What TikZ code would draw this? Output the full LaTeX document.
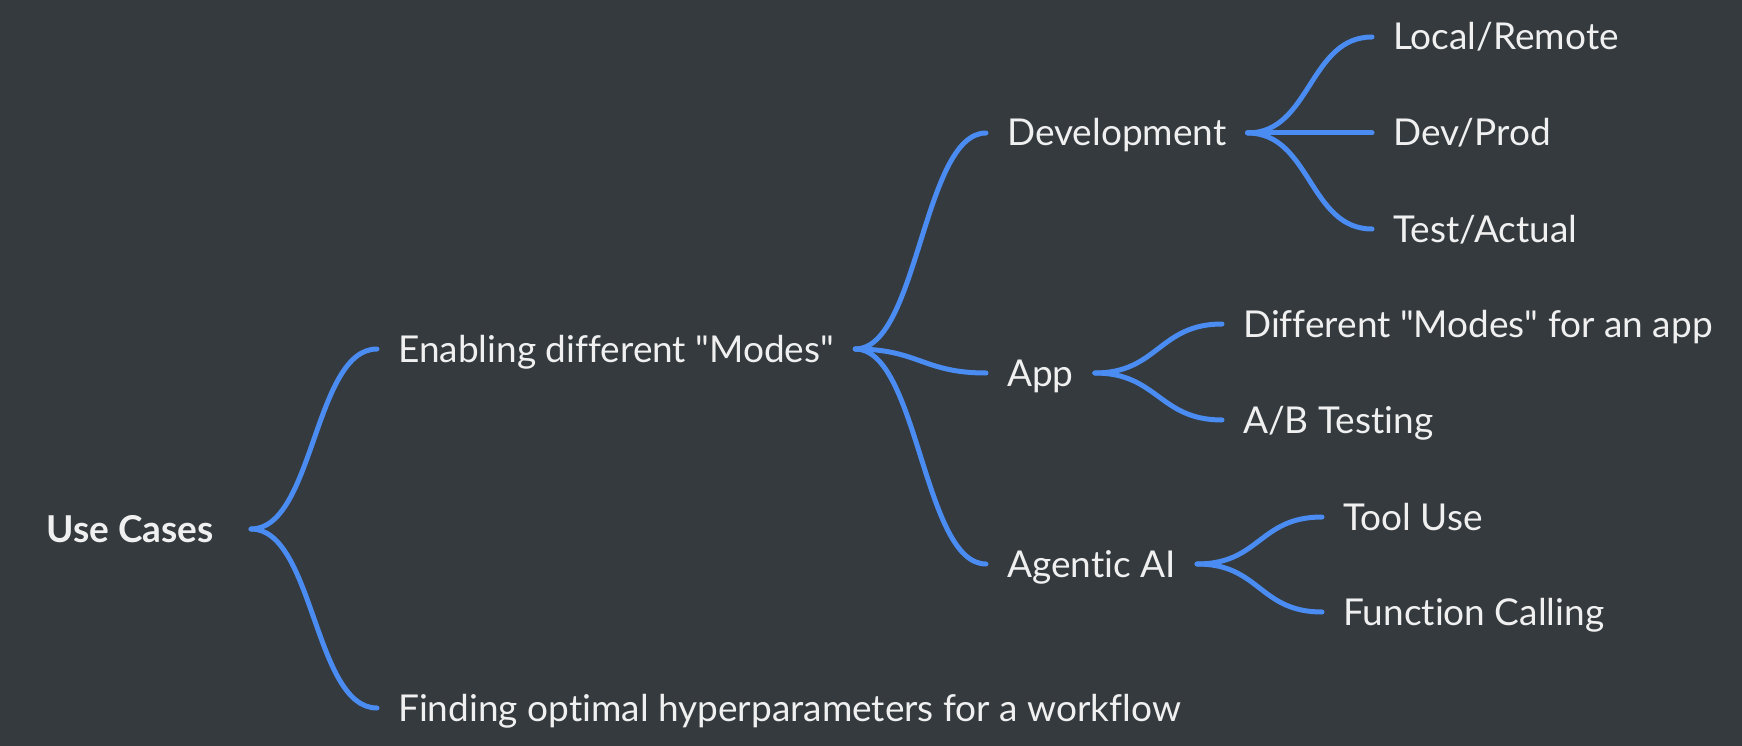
\documentclass[tikz,border=0pt]{standalone}
\usepackage{fontspec}
\setmainfont{Lato}[Ligatures={TeXOff,NoCommon}]
\usetikzlibrary{positioning}
\definecolor{bgcol}{HTML}{343A3E}
\definecolor{linkcol}{HTML}{4A8CF2}
\definecolor{txtcol}{HTML}{F0F0F0}

\begin{document}
\begin{tikzpicture}[x=1pt, y=-1pt,
    topic/.style={anchor=west, inner xsep=21pt, inner ysep=0pt,
        text height=26pt, text depth=0pt, text=txtcol,
        font=\fontsize{37}{40}\selectfont},
    branch/.style={draw=linkcol, line width=5pt, line cap=round,
        to path={.. controls +(63,0) and +(-63,0) .. (\tikztotarget)}}]
    % background
    \fill[bgcol] (0,0) rectangle (1742,746);

    % root and first level
    \node[topic, anchor=east, inner xsep=37pt,
        font=\bfseries\fontsize{37}{40}\selectfont] (root) at (251,529) {Use Cases};
    \node[topic] (modes) at (377,349) {Enabling different "Modes"};
    \node[topic] (hyper) at (377,708) {Finding optimal hyperparameters for a workflow};

    % second level
    \node[topic] (dev) at (986,133) {Development};
    \node[topic] (app) at (986,373) {App};
    \node[topic] (agent) at (986,564) {Agentic AI};

    % leaves
    \node[topic] (local) at (1372,37) {Local/Remote};
    \node[topic] (prod) at (1372,133) {Dev/Prod};
    \node[topic] (test) at (1372,229) {Test/Actual};
    \node[topic] (appmodes) at (1222,324) {Different "Modes" for an app};
    \node[topic] (ab) at (1222,420) {A/B Testing};
    \node[topic] (tool) at (1322,517) {Tool Use};
    \node[topic] (func) at (1322,612) {Function Calling};

    % connectors
    \foreach \a/\b in {root/modes, root/hyper, modes/dev, modes/app, modes/agent,
        dev/local, dev/prod, dev/test, app/appmodes, app/ab, agent/tool, agent/func}
        \draw[branch] (\a.east) to (\b.west);
\end{tikzpicture}
\end{document}
